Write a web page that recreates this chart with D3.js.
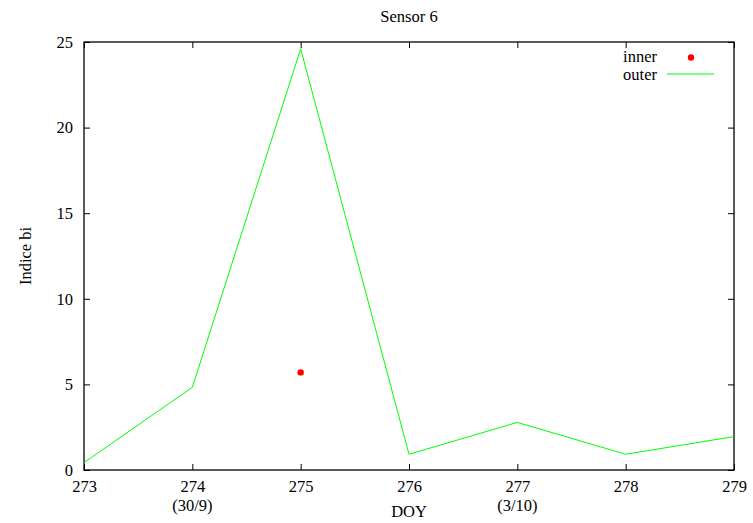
<!DOCTYPE html>
<html>
<head>
<meta charset="utf-8">
<script src="https://cdn.jsdelivr.net/npm/d3@7"></script>
<style>
  body { margin: 0; background: #fff; }
  text { font-family: "Liberation Serif", "Times New Roman", serif; font-size: 16.5px; fill: #000; }
</style>
</head>
<body>
<svg width="753" height="523"></svg>
<script>
// values
var doy = [273, 274, 275, 276, 277, 278, 279];
var outer = [0.43, 4.83, 24.6, 0.92, 2.78, 0.92, 1.95];
var innerDoy = [275];
var inner = [5.7];
var yTicks = [0, 5, 10, 15, 20, 25];
var dateLabels = [{ doy: 274, label: "(30/9)" }, { doy: 277, label: "(3/10)" }];

var svg = d3.select("svg");
var plotL = 84, plotR = 734, plotT = 42, plotB = 470;

var x = d3.scaleLinear().domain([273, 279]).range([plotL, plotR]);
var y = d3.scaleLinear().domain([0, 25]).range([plotB, plotT]);

// ticks, all pointing inward
svg.append("g")
    .attr("transform", "translate(0," + plotB + ")")
    .call(d3.axisBottom(x).tickValues(doy).tickSize(-6).tickPadding(10).tickFormat(d3.format("d")))
    .call(function(g) { g.select(".domain").remove(); });
svg.append("g")
    .attr("transform", "translate(0," + plotT + ")")
    .call(d3.axisTop(x).tickValues(doy).tickSize(-6).tickFormat(""))
    .call(function(g) { g.select(".domain").remove(); });
svg.append("g")
    .attr("transform", "translate(" + plotL + ",0)")
    .call(d3.axisLeft(y).tickValues(yTicks).tickSize(-6).tickPadding(11))
    .call(function(g) { g.select(".domain").remove(); });
svg.append("g")
    .attr("transform", "translate(" + plotR + ",0)")
    .call(d3.axisRight(y).tickValues(yTicks).tickSize(-6).tickFormat(""))
    .call(function(g) { g.select(".domain").remove(); });

svg.selectAll(".tick line").attr("stroke", "#000").attr("stroke-width", 1);
svg.selectAll(".tick text")
    .style("font-family", '"Liberation Serif", serif')
    .style("font-size", "16.5px")
    .attr("fill", "#000");

svg.selectAll(".date")
    .data(dateLabels)
  .enter().append("text")
    .attr("x", function(d) { return x(d.doy); })
    .attr("y", 510.5)
    .attr("text-anchor", "middle")
    .text(function(d) { return d.label; });

// border
svg.append("rect")
    .attr("x", plotL).attr("y", plotT)
    .attr("width", plotR - plotL).attr("height", plotB - plotT)
    .attr("fill", "none").attr("stroke", "#000").attr("stroke-width", 1.3);

// outer line
var line = d3.line()
    .x(function(d, i) { return x(doy[i]); })
    .y(function(d) { return y(d); });

svg.append("path")
    .datum(outer)
    .attr("d", line)
    .attr("fill", "none")
    .attr("stroke", "#00ff00")
    .attr("stroke-width", 1);

// inner points
svg.selectAll(".inner")
    .data(inner)
  .enter().append("circle")
    .attr("cx", function(d, i) { return x(innerDoy[i]); })
    .attr("cy", function(d) { return y(d); })
    .attr("r", 3.2)
    .attr("fill", "#ff0000");

// legend
svg.append("text").attr("x", 657).attr("y", 62).attr("text-anchor", "end").text("inner");
svg.append("circle").attr("cx", 691).attr("cy", 57.5).attr("r", 3.2).attr("fill", "#ff0000");
svg.append("text").attr("x", 657).attr("y", 79.5).attr("text-anchor", "end").text("outer");
svg.append("line").attr("x1", 667).attr("x2", 714).attr("y1", 74).attr("y2", 74)
    .attr("stroke", "#00ff00").attr("stroke-width", 1);

// titles
svg.append("text").attr("x", (plotL + plotR) / 2).attr("y", 22).attr("text-anchor", "middle").text("Sensor 6");
svg.append("text").attr("x", (plotL + plotR) / 2).attr("y", 517).attr("text-anchor", "middle").text("DOY");
svg.append("text")
    .attr("transform", "translate(31," + (plotT + plotB) / 2 + ") rotate(-90)")
    .attr("text-anchor", "middle")
    .text("Indice bi");
</script>
</body>
</html>
